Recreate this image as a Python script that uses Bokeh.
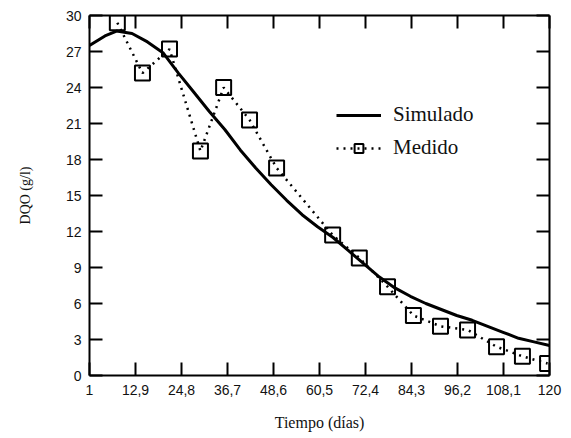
from bokeh.plotting import figure
from bokeh.models import (LinearAxis, FixedTicker, Range1d, Legend, LegendItem,
                          CustomLabelingPolicy)
from bokeh.embed import file_html
from bokeh.resources import INLINE

# ---- data ----
sim_t = [1, 5, 8, 12, 16, 20, 24, 28, 32, 36, 40, 44, 48, 52, 56, 60, 64, 68,
         72, 76, 80, 84, 88, 92, 96, 100, 104, 108, 112, 116, 120]
sim_dqo = [27.5, 28.3, 28.7, 28.5, 27.8, 26.9, 25.2, 23.6, 22.0, 20.5, 18.8, 17.3,
           15.9, 14.6, 13.4, 12.4, 11.5, 10.4, 9.3, 8.2, 7.3, 6.6, 6.0, 5.5, 5.0,
           4.6, 4.1, 3.6, 3.1, 2.8, 2.5]

med_t = [8.2, 14.7, 21.7, 29.7, 35.7, 42.4, 49.4, 63.9, 70.8, 78.1, 84.8, 91.8,
         98.8, 106.3, 113.0, 119.5]
med_dqo = [29.4, 25.2, 27.2, 18.7, 24.0, 21.3, 17.3, 11.7, 9.8, 7.4, 5.0, 4.1,
           3.8, 2.4, 1.6, 1.0]

x_ticks = [1, 12.9, 24.8, 36.7, 48.6, 60.5, 72.4, 84.3, 96.2, 108.1, 120]
x_tick_labels = ["1", "12,9", "24,8", "36,7", "48,6", "60,5", "72,4", "84,3",
                 "96,2", "108,1", "120"]
y_ticks = [0, 3, 6, 9, 12, 15, 18, 21, 24, 27, 30]

SERIF = "Liberation Serif"
SANS = "Liberation Sans"

p = figure(frame_width=460, frame_height=360, output_backend="svg",
           toolbar_location=None, x_range=Range1d(1, 120), y_range=Range1d(0, 30),
           x_axis_label="Tiempo (días)", y_axis_label="DQO (g/l)",
           min_border_left=89, min_border_top=15, min_border_right=4,
           min_border_bottom=10)
p.xgrid.visible = False
p.ygrid.visible = False
p.outline_line_color = None
p.background_fill_color = "white"
p.border_fill_color = "white"

def style_axis(ax, ticks, labels=True):
    ax.ticker = FixedTicker(ticks=ticks)
    ax.axis_line_width = 2
    ax.axis_line_color = "black"
    ax.major_tick_line_width = 2
    ax.major_tick_line_color = "black"
    ax.major_tick_in = 13
    ax.major_tick_out = 0
    ax.minor_tick_line_color = None
    if labels:
        ax.major_label_text_font = SANS
        ax.major_label_text_font_size = "14px"
        ax.major_label_text_color = "#111111"
        ax.axis_label_text_font = SERIF
        ax.axis_label_text_font_style = "normal"
        ax.axis_label_text_color = "#111111"
    else:
        ax.major_label_policy = CustomLabelingPolicy(
            code="for (const i of indices) { if (false) yield i }")
        ax.major_label_standoff = 0

xa = p.xaxis[0]
style_axis(xa, x_ticks)
xa.major_label_overrides = {t: l for t, l in zip(x_ticks, x_tick_labels)}
xa.major_label_standoff = 9
xa.axis_label_standoff = 16
xa.axis_label_text_font_size = "16px"

ya = p.yaxis[0]
style_axis(ya, y_ticks)
ya.major_label_standoff = 8
ya.axis_label_standoff = 30
ya.axis_label_text_font_size = "14px"

top = LinearAxis()
style_axis(top, x_ticks, labels=False)
p.add_layout(top, "above")
right = LinearAxis()
style_axis(right, y_ticks, labels=False)
p.add_layout(right, "right")

r_sim = p.line(sim_t, sim_dqo, line_color="black", line_width=3)
r_med_line = p.line(med_t, med_dqo, line_color="black", line_width=2.5,
                    line_dash="2 5")
r_med_sq = p.scatter(med_t, med_dqo, marker="square", size=15, line_color="black",
                     line_width=2, fill_alpha=0)

legend = Legend(items=[LegendItem(label="Simulado", renderers=[r_sim]),
                       LegendItem(label="Medido", renderers=[r_med_line, r_med_sq])],
                location=(247, 215), border_line_color=None,
                background_fill_alpha=0, glyph_width=45, glyph_height=22,
                spacing=8, padding=0, margin=0, label_standoff=12,
                label_text_font=SERIF, label_text_font_size="21px",
                label_text_color="#111111")
p.add_layout(legend, "center")

open("out.html", "w").write(file_html(p, INLINE))
